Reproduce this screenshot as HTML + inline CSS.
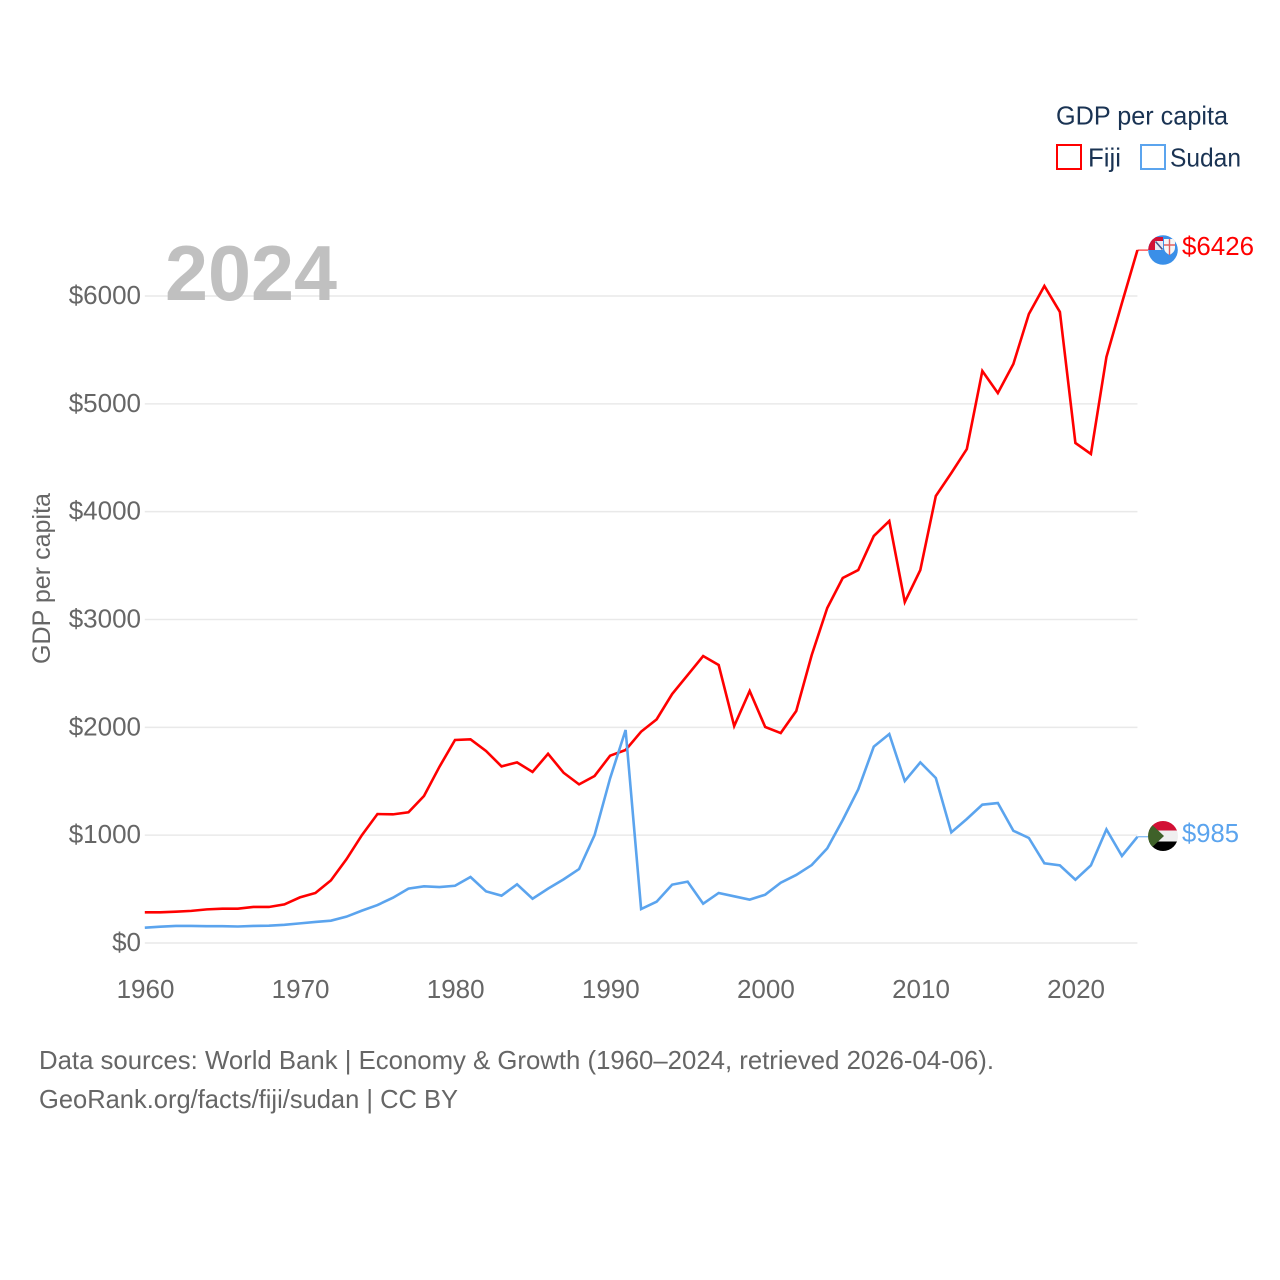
<!DOCTYPE html>
<html lang="en">
<head>
<meta charset="utf-8">
<title>GDP per capita: Fiji and Sudan</title>
<style>
html,body{margin:0;padding:0;background:#fff;width:1280px;height:1280px;overflow:hidden}
svg{display:block}
text{font-family:"Liberation Sans",sans-serif}
</style>
</head>
<body>
<svg id="chart" xmlns="http://www.w3.org/2000/svg" width="1280" height="1280" viewBox="0 0 1280 1280">
  <defs>
    <clipPath id="clip-fiji"><circle cx="1163" cy="250" r="14.800"/></clipPath>
    <clipPath id="clip-sudan"><circle cx="1163" cy="836" r="15"/></clipPath>
  </defs>
  <g id="grid"></g>
  <g id="yticks"></g>
  <g id="xticks"></g>
  <text x="165" y="300" font-size="78" font-weight="700" fill="#c0c0c0" textLength="172" lengthAdjust="spacingAndGlyphs">2024</text>
  <text transform="translate(50,578.5) rotate(-90)" text-anchor="middle" font-size="25" fill="#666" textLength="171" lengthAdjust="spacingAndGlyphs">GDP per capita</text>
  <g id="series"></g>

  <g clip-path="url(#clip-fiji)">
    <rect x="1147" y="234" width="32" height="32" fill="#3a8fe8"/>
    <rect x="1147" y="237" width="16" height="13" fill="#d21034"/>
    <rect x="1155" y="241" width="8" height="9" fill="#e8eaf2"/>
    <path d="M1155.500 241.500L1162.500 249.500" stroke="#4a5688" stroke-width="1.600"/>
    <path d="M1164 239h11v9q0 4-5.500 7q-5.500-3-5.500-7z" fill="#f6f6f6"/>
    <path d="M1169.500 239v16M1164 245h11" stroke="#e06060" stroke-width="1.400"/>
  </g>
  <g clip-path="url(#clip-sudan)">
    <rect x="1147" y="820" width="32" height="10.500" fill="#d21034"/>
    <rect x="1147" y="830.500" width="32" height="11" fill="#efefef"/>
    <rect x="1147" y="841.500" width="32" height="11" fill="#000"/>
    <path d="M1147 820L1164 836L1147 852z" fill="#3f6129"/>
  </g>

  <text x="1182" y="255" font-size="26" fill="#ff0000" textLength="72" lengthAdjust="spacingAndGlyphs">$6426</text>
  <text x="1182" y="842" font-size="26" fill="#5ba4ee" textLength="57" lengthAdjust="spacingAndGlyphs">$985</text>

  <g>
    <text x="1056" y="124.500" font-size="26" fill="#1a3353" textLength="172" lengthAdjust="spacingAndGlyphs">GDP per capita</text>
    <rect x="1057" y="145" width="24" height="24" fill="none" stroke="#ff0000" stroke-width="2"/>
    <text x="1088" y="166.500" font-size="26" fill="#1a3353" textLength="33" lengthAdjust="spacingAndGlyphs">Fiji</text>
    <rect x="1141" y="145" width="24" height="24" fill="none" stroke="#5ba4ee" stroke-width="2"/>
    <text x="1170" y="166.500" font-size="26" fill="#1a3353" textLength="71" lengthAdjust="spacingAndGlyphs">Sudan</text>
  </g>

  <text x="39" y="1069" font-size="26" fill="#666" textLength="955" lengthAdjust="spacingAndGlyphs">Data sources: World Bank | Economy &amp; Growth (1960–2024, retrieved 2026-04-06).</text>
  <text x="39" y="1108" font-size="26" fill="#666" textLength="419" lengthAdjust="spacingAndGlyphs">GeoRank.org/facts/fiji/sudan | CC BY</text>
</svg>
<script>
const startYear = 1960;
const fijiValues = [285,285,290,298,312,318,318,334,334,358,423,464,581,776,1001,1196,1193,1212,1363,1635,1883,1889,1781,1638,1675,1586,1755,1579,1471,1549,1737,1790,1960,2074,2309,2485,2661,2578,2012,2337,2003,1947,2151,2671,3107,3385,3459,3774,3913,3162,3459,4145,4359,4581,5305,5100,5370,5833,6093,5852,4637,4535,5434,5935,6426];
const sudanValues = [142,151,158,158,156,156,153,158,161,169,182,195,207,244,300,352,420,504,526,519,531,612,479,439,544,411,504,590,686,1001,1527,1975,315,383,541,569,364,464,433,402,448,559,631,723,878,1141,1425,1821,1938,1502,1675,1530,1026,1150,1283,1298,1041,974,739,720,587,720,1054,807,985];
const yTickValues = [0,1000,2000,3000,4000,5000,6000];
const yTickLabels = ["$0","$1000","$2000","$3000","$4000","$5000","$6000"];
const xTickValues = [1960,1970,1980,1990,2000,2010,2020];
const xTickLabels = ["1960","1970","1980","1990","2000","2010","2020"];

const NS = "http://www.w3.org/2000/svg";
function xScale(year){ return 144.8 + (year - 1960) * 15.51; }
function yScale(value){ return 943 - value * 0.10783; }

const gridGroup = document.getElementById("grid");
const yGroup = document.getElementById("yticks");
const xGroup = document.getElementById("xticks");
const seriesGroup = document.getElementById("series");

yTickValues.forEach(function(v, i){
  const line = document.createElementNS(NS, "line");
  
  
  line.setAttribute("x1", xScale(1960));
  line.setAttribute("x2", xScale(2024));
  line.setAttribute("y1", yScale(v));
  line.setAttribute("y2", yScale(v));
  line.setAttribute("stroke", "#e9e9e9");
  line.setAttribute("stroke-width", 1.5);
  gridGroup.appendChild(line);

  const label = document.createElementNS(NS, "text");
  
  
  label.setAttribute("x", 141);
  label.setAttribute("y", yScale(v) + 8);
  label.setAttribute("text-anchor", "end");
  label.setAttribute("font-size", 26);
  label.setAttribute("fill", "#666");
  label.textContent = yTickLabels[i];
  yGroup.appendChild(label);
});

xTickValues.forEach(function(v, i){
  const label = document.createElementNS(NS, "text");
  
  
  label.setAttribute("x", xScale(v) + 0.7);
  label.setAttribute("y", 998);
  label.setAttribute("text-anchor", "middle");
  label.setAttribute("font-size", 26);
  label.setAttribute("fill", "#666");
  label.textContent = xTickLabels[i];
  xGroup.appendChild(label);
});

function pointsFor(values){
  return values.map(function(v, i){
    return xScale(startYear + i).toFixed(2) + "," + yScale(v).toFixed(2);
  }).join(" ");
}

const fijiLine = document.createElementNS(NS, "polyline");


fijiLine.setAttribute("points", pointsFor(fijiValues));
fijiLine.setAttribute("fill", "none");
fijiLine.setAttribute("stroke", "#ff0000");
fijiLine.setAttribute("stroke-width", 2.6);
seriesGroup.appendChild(fijiLine);

const sudanLine = document.createElementNS(NS, "polyline");


sudanLine.setAttribute("points", pointsFor(sudanValues));
sudanLine.setAttribute("fill", "none");
sudanLine.setAttribute("stroke", "#5ba4ee");
sudanLine.setAttribute("stroke-width", 2.6);
seriesGroup.appendChild(sudanLine);

const fijiConnector = document.createElementNS(NS, "line");


fijiConnector.setAttribute("x1", xScale(2024));
fijiConnector.setAttribute("x2", 1148);
fijiConnector.setAttribute("y1", yScale(fijiValues[fijiValues.length - 1]));
fijiConnector.setAttribute("y2", yScale(fijiValues[fijiValues.length - 1]));
fijiConnector.setAttribute("stroke", "#ff0000");
fijiConnector.setAttribute("stroke-width", 1);
seriesGroup.appendChild(fijiConnector);

const sudanConnector = document.createElementNS(NS, "line");


sudanConnector.setAttribute("x1", xScale(2024));
sudanConnector.setAttribute("x2", 1148);
sudanConnector.setAttribute("y1", yScale(sudanValues[sudanValues.length - 1]));
sudanConnector.setAttribute("y2", yScale(sudanValues[sudanValues.length - 1]));
sudanConnector.setAttribute("stroke", "#5ba4ee");
sudanConnector.setAttribute("stroke-width", 1);
seriesGroup.appendChild(sudanConnector);
</script>
</body>
</html>
